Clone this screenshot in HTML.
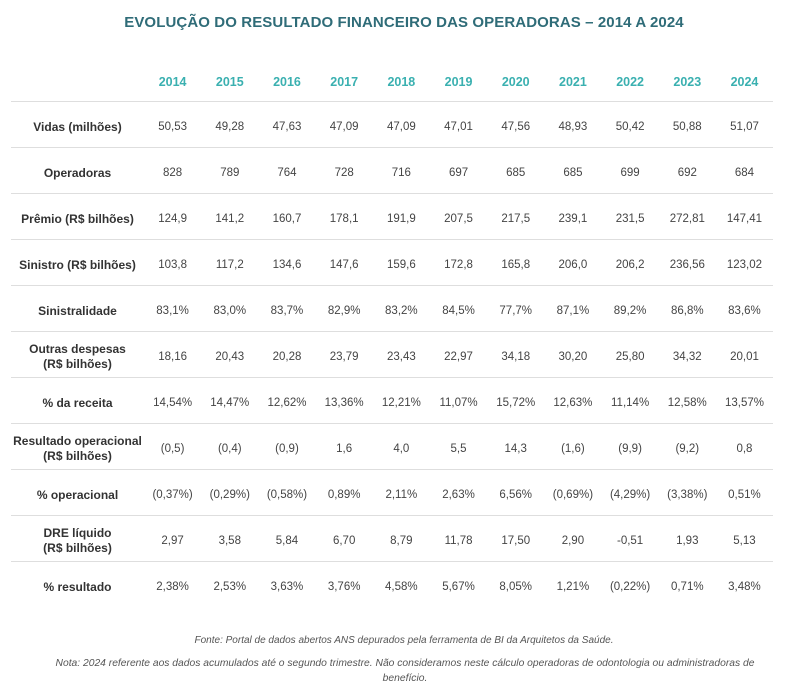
<!DOCTYPE html>
<html><head><meta charset="utf-8"><style>
body{margin:0;width:808px;height:700px;background:#fff;font-family:"Liberation Sans",sans-serif;position:relative;overflow:hidden}
.title{position:absolute;top:14px;left:0;width:808px;text-align:center;font-weight:bold;font-size:15px;color:#2f6c78;letter-spacing:0.1px}
table{position:absolute;left:11px;top:58px;border-collapse:collapse;table-layout:fixed}
td{padding:5px 0 0 0;text-align:center;font-size:11.5px;color:#444;height:40px;border-bottom:1px solid #dedede;line-height:15px}
td.l{width:133px;font-weight:bold;font-size:12px;color:#333}
td.v{width:57.2px}
tr.h td{height:37px;padding-top:6px;color:#3ab0b0;font-weight:bold;font-size:12.5px}
tr.last td{border-bottom:none}
.f{position:absolute;left:0;width:808px;text-align:center;font-style:italic;font-size:10px;color:#555}
</style></head><body>
<div class="title">EVOLUÇÃO DO RESULTADO FINANCEIRO DAS OPERADORAS – 2014 A 2024</div>
<table>
<tr class="h"><td class="l"></td><td class="v">2014</td><td class="v">2015</td><td class="v">2016</td><td class="v">2017</td><td class="v">2018</td><td class="v">2019</td><td class="v">2020</td><td class="v">2021</td><td class="v">2022</td><td class="v">2023</td><td class="v">2024</td></tr>
<tr><td class="l">Vidas (milhões)</td><td>50,53</td><td>49,28</td><td>47,63</td><td>47,09</td><td>47,09</td><td>47,01</td><td>47,56</td><td>48,93</td><td>50,42</td><td>50,88</td><td>51,07</td></tr>
<tr><td class="l">Operadoras</td><td>828</td><td>789</td><td>764</td><td>728</td><td>716</td><td>697</td><td>685</td><td>685</td><td>699</td><td>692</td><td>684</td></tr>
<tr><td class="l">Prêmio (R$ bilhões)</td><td>124,9</td><td>141,2</td><td>160,7</td><td>178,1</td><td>191,9</td><td>207,5</td><td>217,5</td><td>239,1</td><td>231,5</td><td>272,81</td><td>147,41</td></tr>
<tr><td class="l">Sinistro (R$ bilhões)</td><td>103,8</td><td>117,2</td><td>134,6</td><td>147,6</td><td>159,6</td><td>172,8</td><td>165,8</td><td>206,0</td><td>206,2</td><td>236,56</td><td>123,02</td></tr>
<tr><td class="l">Sinistralidade</td><td>83,1%</td><td>83,0%</td><td>83,7%</td><td>82,9%</td><td>83,2%</td><td>84,5%</td><td>77,7%</td><td>87,1%</td><td>89,2%</td><td>86,8%</td><td>83,6%</td></tr>
<tr><td class="l">Outras despesas<br>(R$ bilhões)</td><td>18,16</td><td>20,43</td><td>20,28</td><td>23,79</td><td>23,43</td><td>22,97</td><td>34,18</td><td>30,20</td><td>25,80</td><td>34,32</td><td>20,01</td></tr>
<tr><td class="l">% da receita</td><td>14,54%</td><td>14,47%</td><td>12,62%</td><td>13,36%</td><td>12,21%</td><td>11,07%</td><td>15,72%</td><td>12,63%</td><td>11,14%</td><td>12,58%</td><td>13,57%</td></tr>
<tr><td class="l">Resultado operacional<br>(R$ bilhões)</td><td>(0,5)</td><td>(0,4)</td><td>(0,9)</td><td>1,6</td><td>4,0</td><td>5,5</td><td>14,3</td><td>(1,6)</td><td>(9,9)</td><td>(9,2)</td><td>0,8</td></tr>
<tr><td class="l">% operacional</td><td>(0,37%)</td><td>(0,29%)</td><td>(0,58%)</td><td>0,89%</td><td>2,11%</td><td>2,63%</td><td>6,56%</td><td>(0,69%)</td><td>(4,29%)</td><td>(3,38%)</td><td>0,51%</td></tr>
<tr><td class="l">DRE líquido<br>(R$ bilhões)</td><td>2,97</td><td>3,58</td><td>5,84</td><td>6,70</td><td>8,79</td><td>11,78</td><td>17,50</td><td>2,90</td><td>-0,51</td><td>1,93</td><td>5,13</td></tr>
<tr class="last"><td class="l">% resultado</td><td>2,38%</td><td>2,53%</td><td>3,63%</td><td>3,76%</td><td>4,58%</td><td>5,67%</td><td>8,05%</td><td>1,21%</td><td>(0,22%)</td><td>0,71%</td><td>3,48%</td></tr>
</table>
<div class="f" style="top:635px">Fonte: Portal de dados abertos ANS depurados pela ferramenta de BI da Arquitetos da Saúde.</div>
<div class="f" style="top:656px;left:35px;width:740px;line-height:15px;font-size:10.3px">Nota: 2024 referente aos dados acumulados até o segundo trimestre. Não consideramos neste cálculo operadoras de odontologia ou administradoras de benefício.</div>
</body></html>
